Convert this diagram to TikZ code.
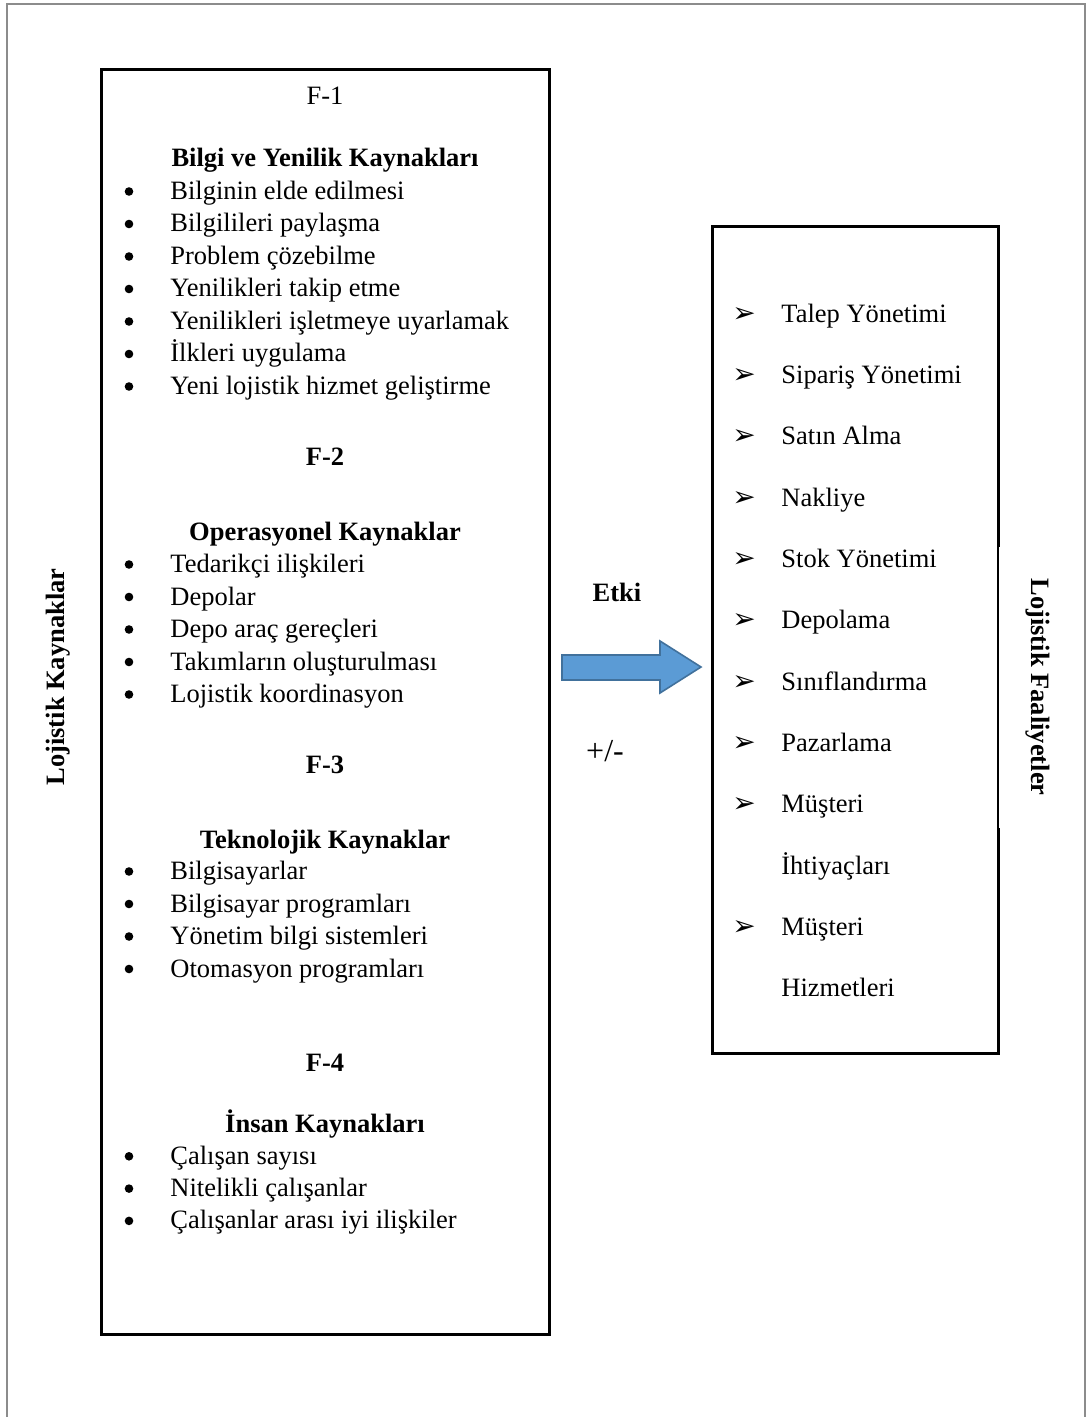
\documentclass[tikz,border=0pt]{standalone}
\usepackage{fontspec}
\setmainfont{Liberation Serif}
\newfontfamily\dingfont{DejaVu Sans}
\usetikzlibrary{positioning}
\definecolor{arrblue}{HTML}{5B9BD5}
\definecolor{arredge}{HTML}{41719C}
\definecolor{pagegray}{HTML}{8C8C8C}
\tikzset{
  txtbase/.style={inner sep=0pt,font=\fontsize{13.25}{15}\selectfont},
  itemtxt/.style={txtbase,anchor=base west},
  sectxt/.style={txtbase,anchor=base},
  headtxt/.style={sectxt,font=\fontsize{13.25}{15}\selectfont\bfseries},
  dotbul/.style={circle,fill=black,inner sep=0pt,minimum size=4.3pt},
  arrbul/.style={inner sep=0pt,anchor=base,font=\dingfont\fontsize{14}{16}\selectfont},
  framebox/.style={draw=black,line width=1.5pt},
  sidelbl/.style={txtbase,font=\fontsize{13.25}{15}\selectfont\bfseries},
}

\begin{document}
\begin{tikzpicture}[x=0.5pt,y=-0.5pt]
  \useasboundingbox (0,0) rectangle (1088,1417);
  % page frame
  \draw[pagegray,line width=1pt] (7,1417) -- (7,4) -- (1085,4) -- (1085,1417);
  % left box
  \draw[framebox] (101,70) rectangle (549,1334);
  \node[sectxt] (f1) at (325,105) {F-1};
  \node[headtxt] (h1) at (325,167) {Bilgi ve Yenilik Kaynakları};
  \foreach \txt [count=\i] in {Bilginin elde edilmesi, Bilgilileri paylaşma,
      Problem çözebilme, Yenilikleri takip etme, Yenilikleri işletmeye uyarlamak,
      İlkleri uygulama, Yeni lojistik hizmet geliştirme} {
    \node[dotbul] (b1\i) at (129,{159+32.5*\i}) {};
    \node[itemtxt] (t1\i) at (170,{167+32.5*\i}) {\txt};
  }
  \node[headtxt] (f2) at (325,465) {F-2};
  \node[headtxt] (h2) at (325,540) {Operasyonel Kaynaklar};
  \foreach \txt [count=\i] in {Tedarikçi ilişkileri, Depolar, Depo araç gereçleri,
      Takımların oluşturulması, Lojistik koordinasyon} {
    \node[dotbul] (b2\i) at (129,{532+32.5*\i}) {};
    \node[itemtxt] (t2\i) at (170,{540+32.5*\i}) {\txt};
  }
  \node[headtxt] (f3) at (325,773) {F-3};
  \node[headtxt] (h3) at (325,848) {Teknolojik Kaynaklar};
  \foreach \txt [count=\i] in {Bilgisayarlar, Bilgisayar programları,
      Yönetim bilgi sistemleri, Otomasyon programları} {
    \node[dotbul] (b3\i) at (129,{839+32.5*\i}) {};
    \node[itemtxt] (t3\i) at (170,{847+32.5*\i}) {\txt};
  }
  \node[headtxt] (f4) at (325,1071) {F-4};
  \node[headtxt] (h4) at (325,1132) {İnsan Kaynakları};
  \foreach \txt [count=\i] in {Çalışan sayısı, Nitelikli çalışanlar,
      Çalışanlar arası iyi ilişkiler} {
    \node[dotbul] (b4\i) at (129,{1124+32.3*\i}) {};
    \node[itemtxt] (t4\i) at (170,{1132+32.3*\i}) {\txt};
  }
  \node[sidelbl,rotate=90] (lftlbl) at (58,677) {Lojistik Kaynaklar};

  % middle
  \node[headtxt] (etki) at (617,601) {Etki};
  \node[sectxt,font=\fontsize{16}{18}\selectfont] (pm) at (605,761) {+/-};
  \draw[fill=arrblue,draw=arredge,line width=0.8pt] (562,655) -- (660,655) -- (660,641)
    -- (701,667) -- (660,693) -- (660,680) -- (562,680) -- cycle;

  % right box
  \draw[framebox] (998,547) -- (998,227) -- (712,227) -- (712,1053) -- (998,1053) -- (998,828);
  \draw[black,line width=0.8pt] (998,547) -- (998,828);
  \foreach \txt/\mark [count=\i from 0] in {Talep Yönetimi/1, Sipariş Yönetimi/1,
      Satın Alma/1, Nakliye/1, Stok Yönetimi/1, Depolama/1, Sınıflandırma/1,
      Pazarlama/1, Müşteri/1, İhtiyaçları/0, Müşteri/1, Hizmetleri/0} {
    \ifnum\mark=1
      \node[arrbul] (a\i) at (744,{322+61.35*\i}) {➢};
    \fi
    \node[itemtxt] (r\i) at (781,{322+61.35*\i}) {\txt};
  }
  \node[sidelbl,rotate=-90] (rgtlbl) at (1038,687) {Lojistik Faaliyetler};
\end{tikzpicture}
\end{document}
